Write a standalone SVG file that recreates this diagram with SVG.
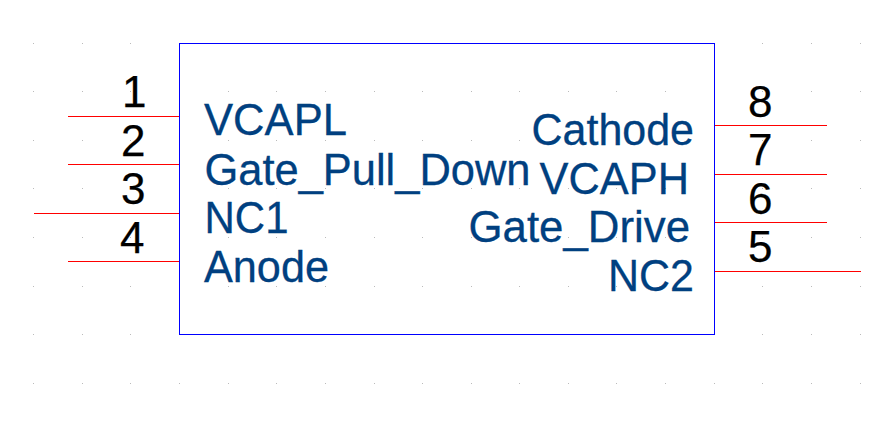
<svg xmlns="http://www.w3.org/2000/svg" width="896" height="423" viewBox="0 0 896 423">
<style>
text{font-family:"Liberation Sans",Arial,sans-serif}
.n{font-size:44px;fill:#000;stroke:#000;stroke-width:.25px}
.l{font-size:43.500px;fill:#004080;stroke:#004080;stroke-width:.3px}
.p{stroke:#ff0000;stroke-width:1;fill:none}
.g{fill:#bbbbbb}
</style>
<defs>
<path id="dots" class="g" d="M33 0h1v1h-1zM82 0h1v1h-1zM130 0h1v1h-1zM179 0h1v1h-1zM228 0h1v1h-1zM276 0h1v1h-1zM325 0h1v1h-1zM374 0h1v1h-1zM422 0h1v1h-1zM471 0h1v1h-1zM519 0h1v1h-1zM568 0h1v1h-1zM616 0h1v1h-1zM665 0h1v1h-1zM714 0h1v1h-1zM762 0h1v1h-1zM811 0h1v1h-1zM860 0h1v1h-1z"/>
</defs>
<rect width="896" height="423" fill="#fff"/>
<g id="grid">
<use href="#dots" y="43"/><use href="#dots" y="91"/><use href="#dots" y="140"/><use href="#dots" y="188"/><use href="#dots" y="237"/><use href="#dots" y="286"/><use href="#dots" y="334"/><use href="#dots" y="383"/>
</g>
<g id="body"><rect x="179.500" y="43.500" width="535" height="291" fill="none" stroke="#0000ff"/></g>
<g id="connectors">
<path class="p" d="M68 116.500H179M68 164.500H179M68 261.500H179M715 125.500H827M715 174.500H827M715 222.500H827"/>
<path class="p" d="M34 213.500H179M715 271.500H861"/>
</g>
<g id="pin1"><text class="n" x="122" y="107">1</text><text class="l" x="204" y="135" textLength="143" lengthAdjust="spacingAndGlyphs">VCAPL</text></g>
<g id="pin2"><text class="n" x="121" y="156">2</text><text class="l" x="204.500" y="185" textLength="326" lengthAdjust="spacingAndGlyphs">Gate_Pull_Down</text></g>
<g id="pin3"><text class="n" x="121" y="204">3</text><text class="l" x="204.500" y="233" textLength="84" lengthAdjust="spacingAndGlyphs">NC1</text></g>
<g id="pin4"><text class="n" x="120" y="253">4</text><text class="l" x="204" y="282" textLength="125" lengthAdjust="spacingAndGlyphs">Anode</text></g>
<g id="pin8"><text class="n" x="748" y="117">8</text><text class="l" x="531.500" y="145" textLength="162.500" lengthAdjust="spacingAndGlyphs">Cathode</text></g>
<g id="pin7"><text class="n" x="748" y="165">7</text><text class="l" x="539.500" y="194" textLength="149.500" lengthAdjust="spacingAndGlyphs">VCAPH</text></g>
<g id="pin6"><text class="n" x="748" y="214">6</text><text class="l" x="468.500" y="242" textLength="221.500" lengthAdjust="spacingAndGlyphs">Gate_Drive</text></g>
<g id="pin5"><text class="n" x="748" y="262">5</text><text class="l" x="608" y="291" textLength="86" lengthAdjust="spacingAndGlyphs">NC2</text></g>
</svg>
